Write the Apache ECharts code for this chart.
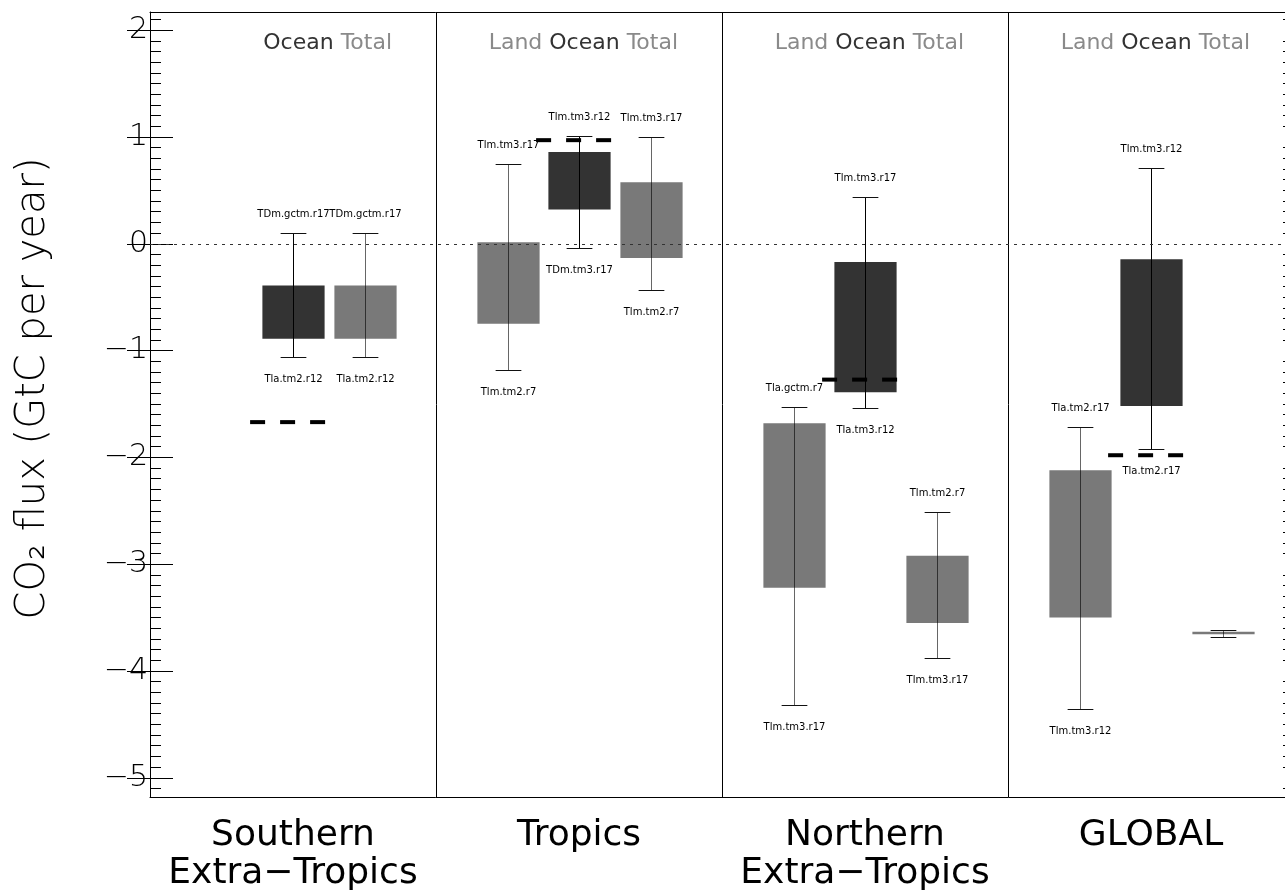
<!DOCTYPE html>
<html>
<head>
<meta charset="utf-8">
<script src="https://cdn.jsdelivr.net/npm/echarts@6/dist/echarts.min.js"></script>
<style>
  html, body { margin: 0; padding: 0; background: #fff; overflow: hidden; }
  #main { width: 1300px; height: 894px; }
</style>
</head>
<body>
<div id="main"></div>
<script>
// Regional CO2 flux ranges (GtC per year) for Land / Ocean / Total
const regions = ['Southern\nExtra\u2212Tropics', 'Tropics', 'Northern\nExtra\u2212Tropics', 'GLOBAL'];
const components = ['Land', 'Ocean', 'Total'];

// Land
const landBarLow    = [null, -0.75, -3.22, -3.50];
const landBarHigh   = [null, 0.015, -1.68, -2.12];
const landErrLow    = [null, -1.18, -4.32, -4.355];
const landErrHigh   = [null, 0.75, -1.53, -1.72];
const landLabelHigh = [null, 'Tlm.tm3.r17', 'Tla.gctm.r7', 'Tla.tm2.r17'];
const landLabelLow  = [null, 'Tlm.tm2.r7', 'Tlm.tm3.r17', 'Tlm.tm3.r12'];

// Ocean
const oceanBarLow    = [-0.89, 0.32, -1.39, -1.52];
const oceanBarHigh   = [-0.39, 0.86, -0.17, -0.145];
const oceanErrLow    = [-1.062, -0.04, -1.54, -1.925];
const oceanErrHigh   = [0.10, 1.01, 0.435, 0.705];
const oceanLabelHigh = ['TDm.gctm.r17', 'Tlm.tm3.r12', 'Tlm.tm3.r17', 'Tlm.tm3.r12'];
const oceanLabelLow  = ['Tla.tm2.r12', 'TDm.tm3.r17', 'Tla.tm3.r12', 'Tla.tm2.r17'];

// Total
const totalBarLow    = [-0.89, -0.133, -3.55, -3.657];
const totalBarHigh   = [-0.39, 0.577, -2.92, -3.632];
const totalErrLow    = [-1.062, -0.435, -3.883, -3.68];
const totalErrHigh   = [0.10, 1.0, -2.507, -3.615];
const totalLabelHigh = ['TDm.gctm.r17', 'Tlm.tm3.r17', 'Tlm.tm2.r7', null];
const totalLabelLow  = ['Tla.tm2.r12', 'Tlm.tm2.r7', 'Tlm.tm3.r17', null];

// Reference ocean estimate per region (dashed marker)
const oceanReference = [-1.67, 0.97, -1.272, -1.98];

// Y axis ticks
const yMajorTicks = [-5, -4, -3, -2, -1, 0, 1, 2];
const yMinorTicks = [];
for (let k = -51; k <= 21; k++) if (k % 10 !== 0) yMinorTicks.push(k / 10);

const DARK = '#333333';
const GREY = '#797979';
const FONT = "'DejaVu Sans', sans-serif";

// x position of a component slot inside a region panel (4 units per panel)
function slotX(r, c) { return 4 * r + c + 1; }

function boxSeries(ci, color, whisker, lo, hi, eLo, eHi, labHi, labLo) {
  const data = [];
  const labels = [];
  for (let r = 0; r < regions.length; r++) {
    if (lo[r] == null) continue;
    data.push([slotX(r, ci), lo[r], hi[r], eLo[r], eHi[r]]);
    labels.push([labHi[r], labLo[r]]);
  }
  return {
    type: 'custom',
    name: components[ci],
    xAxisIndex: 0,
    yAxisIndex: 0,
    silent: true,
    data: data,
    z: 3,
    renderItem: function (params, api) {
      const x = api.value(0);
      const unit = api.size([1, 0])[0];
      const hw = unit * 0.435;
      const cw = unit * 0.18;
      const pLo = api.coord([x, api.value(1)]);
      const cx = Math.round(pLo[0]) + 0.5;
      const yLo = pLo[1];
      const yHi = api.coord([x, api.value(2)])[1];
      const yELo = Math.round(api.coord([x, api.value(3)])[1]) + 0.5;
      const yEHi = Math.round(api.coord([x, api.value(4)])[1]) + 0.5;
      const lab = labels[params.dataIndex];
      const children = [
        { type: 'rect', shape: { x: cx - hw, y: yHi, width: 2 * hw, height: Math.max(yLo - yHi, 2) },
          style: { fill: color } },
        { type: 'line', shape: { x1: cx, y1: yEHi, x2: cx, y2: yELo },
          style: { stroke: whisker, lineWidth: 1 } },
        { type: 'line', shape: { x1: cx - cw, y1: yEHi, x2: cx + cw, y2: yEHi },
          style: { stroke: '#111', lineWidth: 1 } },
        { type: 'line', shape: { x1: cx - cw, y1: yELo, x2: cx + cw, y2: yELo },
          style: { stroke: '#111', lineWidth: 1 } }
      ];
      if (lab[0]) children.push({ type: 'text', x: cx, y: yEHi - 19,
        style: { text: lab[0], fill: '#000', fontSize: 10, fontFamily: FONT, align: 'center', verticalAlign: 'middle' } });
      if (lab[1]) children.push({ type: 'text', x: cx, y: yELo + 22,
        style: { text: lab[1], fill: '#000', fontSize: 10, fontFamily: FONT, align: 'center', verticalAlign: 'middle' } });
      return { type: 'group', children: children };
    }
  };
}

// Header listing the components present in each panel
const headerColors = { Land: '#8a8a8a', Ocean: '#333333', Total: '#8a8a8a' };
const headerData = [];
const headerTexts = [];
for (let r = 0; r < regions.length; r++) {
  const present = [landBarLow[r] != null, oceanBarLow[r] != null, totalBarLow[r] != null];
  const parts = [];
  components.forEach((c, i) => { if (present[i]) parts.push('{' + c + '|' + c + '}'); });
  headerData.push([4 * r + 3.385]);
  headerTexts.push(parts.join(' '));
}
const rich = {};
components.forEach(c => { rich[c] = { fill: headerColors[c], fontSize: 22, fontFamily: FONT }; });

const chart = echarts.init(document.getElementById('main'));

const yBase = { type: 'value', min: -5.18, max: 2.17, splitLine: { show: false } };

chart.setOption({
  animation: false,
  backgroundColor: '#fff',
  grid: { left: 150, top: 12, right: 6, bottom: 97, containLabel: false },
  xAxis: [
    {
      type: 'value', min: 0, max: 16, interval: 4, position: 'bottom',
      axisLine: { show: true, onZero: false, lineStyle: { color: '#000', width: 1 } },
      axisTick: { show: false },
      splitLine: { show: true, lineStyle: { color: '#000', width: 1 } },
      axisLabel: {
        customValues: [2, 6, 10, 14],
        formatter: v => regions[Math.round((v - 2) / 4)],
        fontSize: 36, lineHeight: 38, color: '#000', fontFamily: FONT, margin: 20
      }
    },
    {
      type: 'value', min: 0, max: 16, position: 'top',
      axisLine: { show: true, onZero: false, lineStyle: { color: '#000', width: 1 } },
      axisTick: { show: false }, axisLabel: { show: false }, splitLine: { show: false }
    }
  ],
  yAxis: [
    Object.assign({}, yBase, {
      position: 'left',
      axisLine: { show: true, onZero: false, lineStyle: { color: '#000', width: 1 } },
      axisTick: { show: true, inside: true, length: 23, customValues: yMajorTicks, lineStyle: { color: '#000' } },
      axisLabel: {
        customValues: yMajorTicks,
        formatter: v => (v < 0 ? '\u2212' + (-v) : String(v)),
        fontSize: 30, color: '#000', fontFamily: FONT, fontWeight: 200, margin: 2
      },
      name: 'CO\u2082 flux (GtC per year)',
      nameLocation: 'middle', nameRotate: 90, nameGap: 96,
      nameTextStyle: { fontSize: 40, color: '#000', fontFamily: FONT, fontWeight: 200, padding: [0, 0, 0, 32] }
    }),
    Object.assign({}, yBase, {
      position: 'left',
      axisLine: { show: false },
      axisTick: { show: true, inside: true, length: 11, customValues: yMinorTicks, lineStyle: { color: '#000' } },
      axisLabel: { show: false }
    }),
    Object.assign({}, yBase, {
      position: 'right',
      axisLine: { show: false },
      axisTick: { show: true, inside: true, length: 23, customValues: yMajorTicks, lineStyle: { color: '#000' } },
      axisLabel: { show: false }
    }),
    Object.assign({}, yBase, {
      position: 'right',
      axisLine: { show: false },
      axisTick: { show: true, inside: true, length: 11, customValues: yMinorTicks, lineStyle: { color: '#000' } },
      axisLabel: { show: false }
    })
  ],
  series: [
    boxSeries(0, GREY, 'rgba(0,0,0,0.6)', landBarLow, landBarHigh, landErrLow, landErrHigh, landLabelHigh, landLabelLow),
    boxSeries(1, DARK, '#000', oceanBarLow, oceanBarHigh, oceanErrLow, oceanErrHigh, oceanLabelHigh, oceanLabelLow),
    boxSeries(2, GREY, 'rgba(0,0,0,0.6)', totalBarLow, totalBarHigh, totalErrLow, totalErrHigh, totalLabelHigh, totalLabelLow),
    {
      // dashed ocean reference markers, plus the zero line
      type: 'custom',
      silent: true,
      z: 4,
      data: oceanReference.map((v, r) => [slotX(r, 1), v]),
      renderItem: function (params, api) {
        const x = api.value(0);
        const p1 = api.coord([x - 0.6, api.value(1)]);
        const p2 = api.coord([x + 0.6, api.value(1)]);
        return { type: 'line', shape: { x1: p1[0], y1: p1[1], x2: p2[0], y2: p2[1] },
          style: { stroke: '#000', lineWidth: 4, lineDash: [15, 15], lineCap: 'butt' } };
      },
      markLine: {
        silent: true, symbol: ['none', 'none'], label: { show: false },
        lineStyle: { color: '#333', width: 1, type: [3, 5] },
        data: [{ yAxis: 0 }]
      }
    },
    {
      type: 'custom',
      silent: true,
      z: 5,
      data: headerData,
      renderItem: function (params, api) {
        const p = api.coord([api.value(0), 0]);
        return { type: 'text', x: p[0], y: params.coordSys.y + 31,
          style: { text: headerTexts[params.dataIndex], rich: rich, fontSize: 22, fontFamily: FONT,
            fill: '#888', align: 'right', verticalAlign: 'middle' } };
      }
    }
  ]
});
</script>
</body>
</html>
